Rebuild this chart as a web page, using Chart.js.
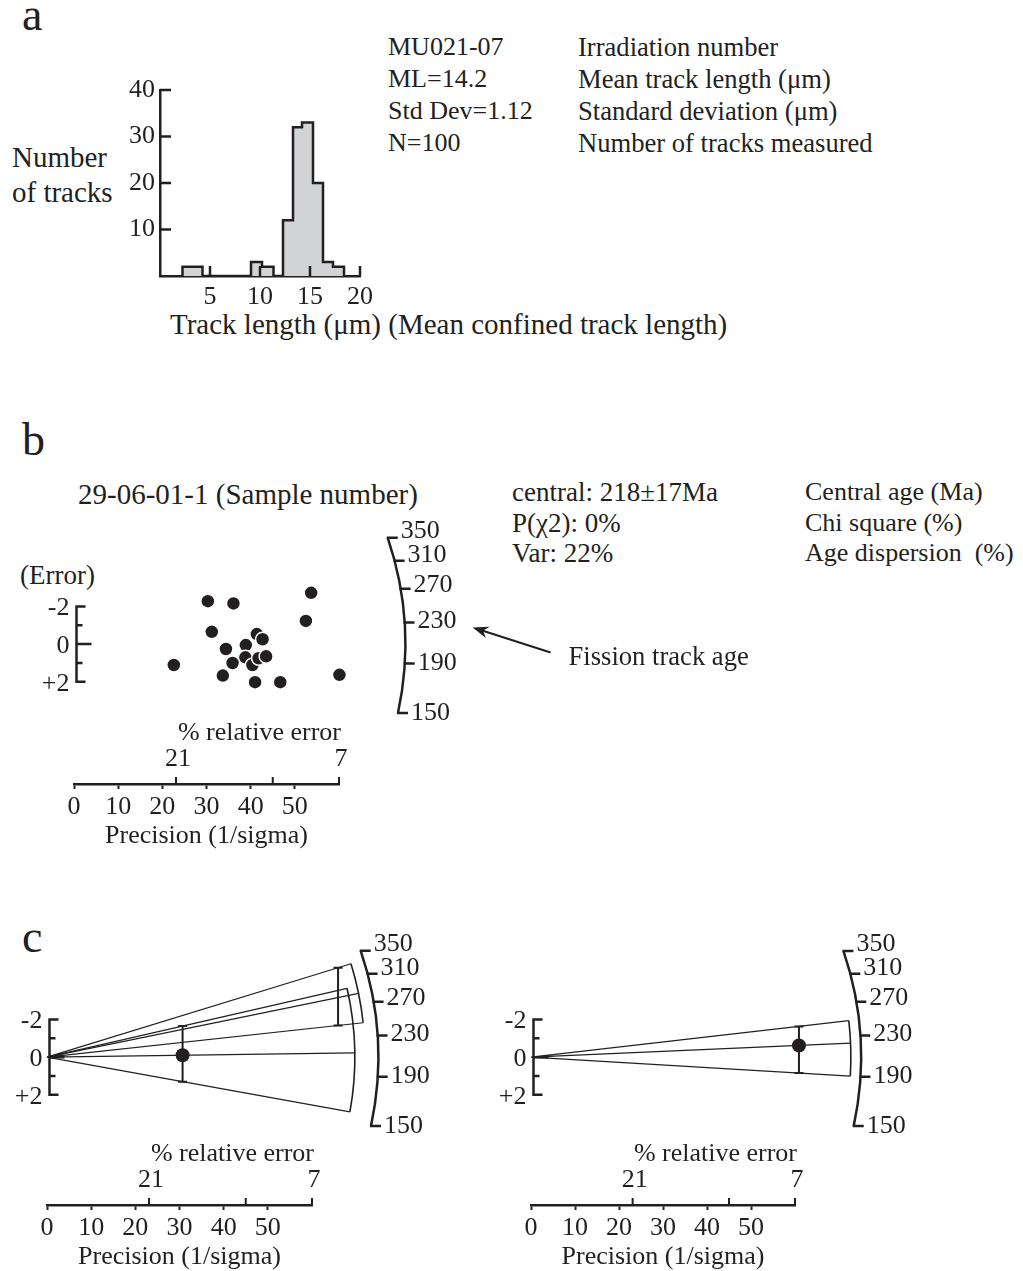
<!DOCTYPE html>
<html>
<head>
<meta charset="utf-8">
<title>Fission track length and radial plots</title>
<script src="https://cdn.jsdelivr.net/npm/chart.js@4.4.1/dist/chart.umd.min.js"></script>
<style>
  html, body { margin: 0; padding: 0; background: #fff; width: 1023px; height: 1271px; overflow: hidden; }
  body { position: relative; font-family: 'Liberation Serif', 'Times New Roman', serif; color: #231f20; }
  .t { position: absolute; font-size: 26px; line-height: 26px; white-space: nowrap; }
  .big { font-size: 29px; line-height: 29px; }
  .letter { position: absolute; font-size: 46px; line-height: 46px; }
  canvas { position: absolute; }
</style>
</head>
<body>

<div class="letter" style="left:22px;top:-8px">a</div>
<div class="t" style="left:388px;top:31px;line-height:32px">MU021-07<br>ML=14.2<br>Std Dev=1.12<br>N=100</div>
<div class="t" style="left:578px;top:31px;line-height:32px;font-size:26.6px">Irradiation number<br>Mean track length (μm)<br>Standard deviation (μm)<br>Number of tracks measured</div>
<div class="t big" style="left:12px;top:140px;line-height:35px">Number<br>of tracks</div>
<div class="t big" style="left:170px;top:310px">Track length (μm) (Mean confined track length)</div>
<canvas id="hist" width="280" height="261" style="left:100px;top:60px"></canvas>

<div class="letter" style="left:22px;top:417px">b</div>
<div class="t big" style="left:78px;top:480px">29-06-01-1 (Sample number)</div>
<div class="t" style="left:512px;top:477px;line-height:30.5px;font-size:27px">central: 218±17Ma<br>P(χ2): 0%<br>Var: 22%</div>
<div class="t" style="left:805px;top:477px;line-height:30.5px">Central age (Ma)<br>Chi square (%)<br>Age dispersion&nbsp; (%)</div>
<div class="t" style="left:20px;top:562px;font-size:27px">(Error)</div>
<canvas id="radialB" width="780" height="352" style="left:0px;top:500px"></canvas>

<div class="letter" style="left:22px;top:914px">c</div>
<canvas id="radialC1" width="475" height="353" style="left:0px;top:920px"></canvas>
<canvas id="radialC2" width="480" height="353" style="left:480px;top:920px"></canvas>

<script>
// ---- Panel a: confined track-length histogram ----
// lower edge of each bin (µm) and the count that holds up to the next edge
const binEdges  = [2.25, 4.25, 9.1, 10.2, 11.35, 12.3, 13.3, 14.2, 15.3, 16.3, 17.3, 18.4];
const binCounts = [2,    0,    3,   2,    0,     12,   32,   33,   20,   3,    2,    0];
const lengthTicks = [5, 10, 15, 20];
const countTicks  = [10, 20, 30, 40];

// ---- Panel b: single-grain radial plot (precision 1/sigma, standardised estimate) ----
const grainPrecision = [30.3, 36.1, 53.7, 52.5, 31.2, 41.4, 42.7, 38.9, 34.4, 22.6,
                        38.8, 35.9, 40.4, 41.8, 43.5, 33.7, 41.0, 46.7, 60.1];
const grainZ         = [-2.28, -2.16, -2.72, -1.23, -0.65, -0.53, -0.26, 0.05, 0.26, 1.11,
                        0.70, 1.00, 1.11, 0.75, 0.65, 1.67, 2.02, 2.02, 1.63];

// ---- Panel c: two radial plots with error bars and age wedges ----
const leftPrecision  = [30.7, 65.9];
const leftZ          = [-0.1, -3.16];
const leftErrUp      = [1.55, 1.58];   // towards older ages (up)
const leftErrDown    = [1.40, 1.48];
const leftReach      = [69.7, 72.0];   // wedge arc, in precision units
const rightPrecision = [60.9];
const rightZ         = [-0.62];
const rightErrUp     = [1.01];
const rightErrDown   = [1.46];
const rightReach     = [72.7];

// ---- shared axes ----
const ageTicks       = [350, 310, 270, 230, 190, 150];   // Ma
const precisionTicks = [0, 10, 20, 30, 40, 50];
const relErrTicks    = [23.1, 45, 60];                   // positions on the precision axis
const relErrLabels   = ['21', '', '7'];
const errTicks       = [-2, -1, 0, 1, 2];
const errLabels      = ['-2', '', '0', '', '+2'];

// age arc: slope z/x = -AGE_K * ln(t / AGE_REF), drawn at ARC_REACH precision units
const AGE_REF = 208, AGE_K = 0.1525, ARC_REACH = 75;

const INK = '#231f20';
const FONT = "'Liberation Serif', 'Times New Roman', serif";
Chart.defaults.font.family = FONT;
Chart.defaults.font.size = 26;
Chart.defaults.color = INK;
Chart.defaults.animation = false;
Chart.defaults.events = [];
Chart.defaults.plugins.legend.display = false;
Chart.defaults.plugins.tooltip.enabled = false;

// tick marks pointing into the plot area (histogram axes)
const inwardTicks = {
  id: 'inwardTicks',
  afterDraw(chart) {
    const { ctx, chartArea, scales: { x, y } } = chart;
    ctx.save();
    ctx.strokeStyle = INK;
    ctx.lineWidth = 2.5;
    ctx.beginPath();
    lengthTicks.forEach(v => {
      const px = x.getPixelForValue(v);
      ctx.moveTo(px, chartArea.bottom);
      ctx.lineTo(px, chartArea.bottom - 10);
    });
    countTicks.forEach(v => {
      const py = y.getPixelForValue(v);
      ctx.moveTo(chartArea.left, py);
      ctx.lineTo(chartArea.left + 11, py);
    });
    ctx.stroke();
    ctx.restore();
  }
};

new Chart(document.getElementById('hist'), {
  type: 'line',
  data: {
    datasets: [{
      data: [{ x: binEdges[0], y: 0 }].concat(binEdges.map((e, i) => ({ x: e, y: binCounts[i] }))),
      stepped: 'before',
      fill: 'origin',
      backgroundColor: '#d1d3d4',
      borderColor: INK,
      borderWidth: 2.5,
      borderJoinStyle: 'miter',
      pointRadius: 0
    }]
  },
  options: {
    responsive: false,
    maintainAspectRatio: false,
    layout: { padding: { left: 0, top: 30, right: 20, bottom: 5 } },
    scales: {
      x: {
        type: 'linear', min: 0, max: 20,
        afterBuildTicks: s => { s.ticks = lengthTicks.map(v => ({ value: v })); },
        border: { display: true, color: INK, width: 2.5 },
        grid: { display: false, drawTicks: false },
        ticks: { padding: 6, maxRotation: 0, autoSkip: false },
        afterFit: s => { s.height = 40; }
      },
      y: {
        type: 'linear', min: 0, max: 40,
        afterBuildTicks: s => { s.ticks = countTicks.map(v => ({ value: v })); },
        border: { display: true, color: INK, width: 2.5 },
        grid: { display: false, drawTicks: false },
        ticks: { padding: 5 },
        afterFit: s => { s.width = 60; }
      }
    }
  },
  plugins: [inwardTicks]
});

// bracket error axis, age arc, relative-error ticks, wedges and error bars
function radialAxes(cfg) {
  return {
    id: 'radialAxes',
    beforeDatasetsDraw(chart) {
      const { ctx, chartArea } = chart;
      const xs = chart.scales.x, ys = chart.scales.y;
      const px = v => xs.getPixelForValue(v);
      const py = v => ys.getPixelForValue(v);
      const ox = px(0), oy = py(0);
      const rad = reach => px(reach) - ox;
      const angleOf = (p, z) => Math.atan2(py(z) - oy, px(p) - ox);
      const ageAngle = t => angleOf(1, -AGE_K * Math.log(t / AGE_REF));

      ctx.save();
      ctx.strokeStyle = INK;
      ctx.fillStyle = INK;
      ctx.lineCap = 'butt';
      ctx.font = '26px ' + FONT;

      // wedges from the origin through each grain and the ends of its error bar
      (cfg.wedges || []).forEach(w => {
        const R = rad(w.reach);
        const zTop = w.z - w.up, zBot = w.z + w.down;
        const aTop = angleOf(w.p, zTop);
        const aMid = angleOf(w.p, w.z);
        const aBot = angleOf(w.p, zBot);
        ctx.lineWidth = 1.2;
        ctx.beginPath();
        [aTop, aMid, aBot].forEach(a => {
          ctx.moveTo(ox, oy);
          ctx.lineTo(ox + R * Math.cos(a), oy + R * Math.sin(a));
        });
        ctx.stroke();
        ctx.lineWidth = 1.6;
        ctx.beginPath();
        ctx.arc(ox, oy, R, aTop, aBot);
        ctx.stroke();

        const bx = px(w.p), top = py(zTop), bot = py(zBot);
        ctx.lineWidth = 2;
        ctx.beginPath();
        ctx.moveTo(bx, top); ctx.lineTo(bx, bot);
        ctx.moveTo(bx - 4.5, top); ctx.lineTo(bx + 4.5, top);
        ctx.moveTo(bx - 4.5, bot); ctx.lineTo(bx + 4.5, bot);
        ctx.stroke();
      });

      // standardised-estimate bracket
      const bx = ox + 2.5;
      ctx.lineWidth = 2.5;
      ctx.beginPath();
      ctx.moveTo(bx, py(-2) - 1.25);
      ctx.lineTo(bx, py(2) + 1.25);
      errTicks.forEach(v => {
        const len = v === 0 ? 15 : (Math.abs(v) === 2 ? 9 : 6);
        ctx.moveTo(bx - 1.25, py(v));
        ctx.lineTo(bx + len, py(v));
      });
      ctx.stroke();
      ctx.textAlign = 'right';
      ctx.textBaseline = 'middle';
      errTicks.forEach((v, i) => { if (errLabels[i]) ctx.fillText(errLabels[i], bx - 7, py(v) + 2); });

      // age arc
      const R = rad(ARC_REACH);
      ctx.lineWidth = 2.5;
      ctx.beginPath();
      ctx.arc(ox, oy, R, ageAngle(ageTicks[0]), ageAngle(ageTicks[ageTicks.length - 1]));
      ctx.stroke();
      ctx.textAlign = 'left';
      const tickEnds = {};
      ctx.beginPath();
      ageTicks.forEach(t => {
        const a = ageAngle(t);
        const x0 = ox + R * Math.cos(a), y0 = oy + R * Math.sin(a);
        ctx.moveTo(x0 - 1, y0);
        ctx.lineTo(x0 + 10, y0);
        tickEnds[t] = { x: x0 + 10, y: y0, lift: Math.min(0, Math.sin(a)) * 22 };
      });
      ctx.stroke();
      ageTicks.forEach(t => ctx.fillText(String(t), tickEnds[t].x + 3, tickEnds[t].y + tickEnds[t].lift));

      // relative-error ticks above the precision axis
      const yb = chartArea.bottom;
      ctx.lineWidth = 2;
      ctx.beginPath();
      relErrTicks.forEach(v => { ctx.moveTo(px(v), yb); ctx.lineTo(px(v), yb - 7); });
      ctx.stroke();
      ctx.textAlign = 'center';
      relErrTicks.forEach((v, i) => { if (relErrLabels[i]) ctx.fillText(relErrLabels[i], px(v) + 2, yb - 25); });
      ctx.textAlign = 'right';
      ctx.fillText('% relative error', px(relErrTicks[relErrTicks.length - 1]) + 2, yb - 51);

      // arrow pointing at an age label
      if (cfg.arrowAge) {
        const end = tickEnds[cfg.arrowAge];
        const labelEnd = end.x + 3 + ctx.measureText(String(cfg.arrowAge)).width;
        const tip = { x: labelEnd + 16, y: end.y + 5 };
        const tail = { x: tip.x + 78, y: tip.y + 25 };
        const ang = Math.atan2(tip.y - tail.y, tip.x - tail.x);
        ctx.lineWidth = 2;
        ctx.beginPath();
        ctx.moveTo(tail.x, tail.y);
        ctx.lineTo(tip.x - 10 * Math.cos(ang), tip.y - 10 * Math.sin(ang));
        ctx.stroke();
        ctx.beginPath();
        ctx.moveTo(tip.x, tip.y);
        ctx.lineTo(tip.x - 16 * Math.cos(ang) + 6 * Math.sin(ang), tip.y - 16 * Math.sin(ang) - 6 * Math.cos(ang));
        ctx.lineTo(tip.x - 11 * Math.cos(ang), tip.y - 11 * Math.sin(ang));
        ctx.lineTo(tip.x - 16 * Math.cos(ang) - 6 * Math.sin(ang), tip.y - 16 * Math.sin(ang) + 6 * Math.cos(ang));
        ctx.closePath();
        ctx.fill();
        ctx.textAlign = 'left';
        ctx.font = '26.6px ' + FONT;
        ctx.fillText(cfg.arrowText, tail.x + 18, tail.y + 6);
      }
      ctx.restore();
    }
  };
}

function radialChart(id, precision, z, yMax, padding, cfg, withHalo) {
  return new Chart(document.getElementById(id), {
    type: 'scatter',
    data: {
      datasets: [{
        data: precision.map((p, i) => ({ x: p, y: z[i] })),
        pointRadius: 7,
        pointBackgroundColor: INK,
        pointBorderColor: withHalo ? '#ffffff' : INK,
        pointBorderWidth: withHalo ? 1.5 : 0,
        clip: false
      }]
    },
    options: {
      responsive: false,
      maintainAspectRatio: false,
      layout: { padding: padding },
      scales: {
        x: {
          type: 'linear', min: 0, max: 60,
          afterBuildTicks: s => { s.ticks = precisionTicks.map(v => ({ value: v })); },
          border: { display: true, color: INK, width: 2.5 },
          grid: { display: true, drawOnChartArea: false, drawTicks: true, tickLength: 5, tickWidth: 2, tickColor: INK },
          ticks: { padding: 3, maxRotation: 0, autoSkip: false },
          title: { display: true, text: 'Precision (1/sigma)', padding: 0 },
          afterFit: s => { s.height = 68; }
        },
        y: { type: 'linear', display: false, reverse: true, min: -6, max: yMax }
      }
    },
    plugins: [radialAxes(cfg)]
  });
}

radialChart('radialB', grainPrecision, grainZ, 7.42,
  { left: 74, top: 31, right: 441, bottom: 0 },
  { arrowAge: 230, arrowText: 'Fission track age' }, true);

radialChart('radialC1', leftPrecision, leftZ, 7.84,
  { left: 47, top: 24, right: 163, bottom: 0 },
  { wedges: leftPrecision.map((p, i) => ({ p: p, z: leftZ[i], up: leftErrUp[i], down: leftErrDown[i], reach: leftReach[i] })) }, false);

radialChart('radialC2', rightPrecision, rightZ, 7.84,
  { left: 51, top: 24, right: 165, bottom: 0 },
  { wedges: rightPrecision.map((p, i) => ({ p: p, z: rightZ[i], up: rightErrUp[i], down: rightErrDown[i], reach: rightReach[i] })) }, false);
</script>
</body>
</html>
